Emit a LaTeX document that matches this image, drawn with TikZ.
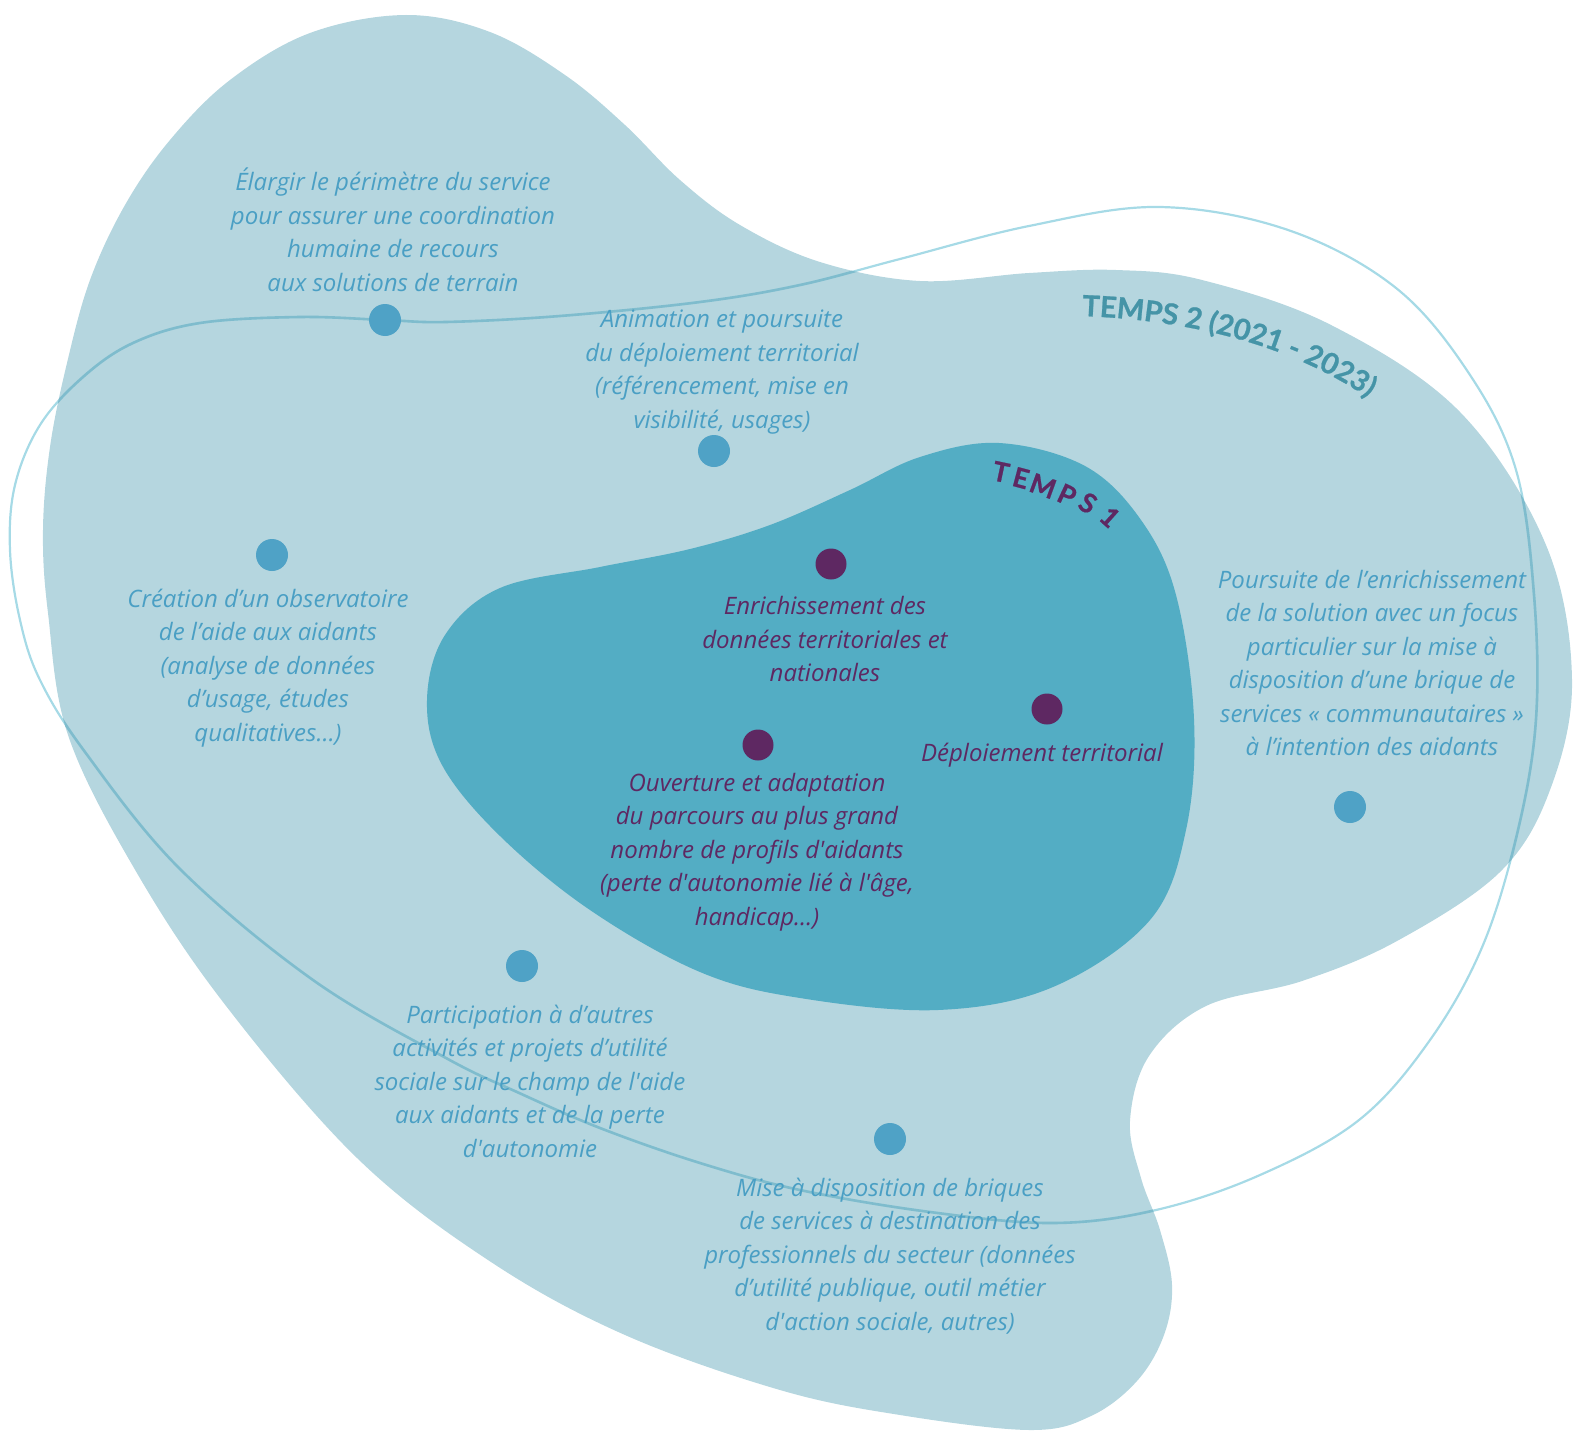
\documentclass[tikz,border=0pt]{standalone}
\usepackage{fontspec}
\setmainfont{Open Sans}
\newfontfamily\latofont{Lato}[BoldFeatures={FakeBold=0.8}]
\usetikzlibrary{decorations.text}
\definecolor{outerc}{HTML}{B5D6DF}
\definecolor{innerc}{HTML}{53ADC4}
\definecolor{bluetxt}{HTML}{4A9FC4}
\definecolor{bluedot}{HTML}{4FA2C6}
\definecolor{purp}{HTML}{5E2862}
\definecolor{temps2c}{HTML}{4594A7}
\definecolor{loopout}{HTML}{A6DAE6}
\definecolor{loopin}{HTML}{7FBCCD}
\newcommand\apos{\textquotesingle}
\newcommand\outerblobpath{plot[smooth cycle, tension=0.6] coordinates {
 (406,15) (490,32) (565,75) (625,125) (680,180) (740,225) (820,262) (920,281) (1029,273) (1116,270)
 (1202,280) (1331,325) (1460,412) (1546,545) (1572,680) (1550,790) (1500,872) (1397,941)
 (1302,981) (1206,1006) (1149,1056) (1130,1121) (1141,1178) (1160,1230) (1172,1285)
 (1164,1335) (1137,1381) (1091,1416) (1030,1430) (900,1415) (780,1390) (625,1335)
 (491,1262) (357,1158) (223,1002) (134,868) (68,735) (48,613) (43,530) (50,447) (67,363)
 (90,280) (125,205) (170,140) (230,80) (310,33)}}
\newcommand\loopcurvepath{plot[smooth cycle, tension=0.6] coordinates {
 (385,320) (446,322) (560,316) (700,302) (800,285) (900,259) (1029,226) (1159,207)
 (1288,230) (1396,288) (1470,375) (1516,470) (1534,595) (1536,719) (1518,830)
 (1483,945) (1430,1040) (1359,1120) (1260,1175) (1156,1210) (1053,1223) (930,1212)
 (800,1190) (700,1163) (600,1128) (517,1092) (446,1058) (313,980) (179,868) (85,752)
 (40,680) (20,620) (10,550) (15,485) (40,425) (83,377) (133,343) (200,323) (300,317)}}
\tikzset{
 bluetext/.style={text=bluetxt, font=\fontsize{24}{33.5}\selectfont\itshape, align=center, inner sep=0pt},
 purptext/.style={text=purp, font=\fontsize{24}{33.5}\selectfont\itshape, align=center, inner sep=0pt},
 bdot/.style={circle, fill=bluedot, minimum size=32pt, inner sep=0pt},
 pdot/.style={circle, fill=purp, minimum size=31pt, inner sep=0pt},
 tonel/.style={text=purp, font=\latofont\bfseries\fontsize{27}{27}\selectfont, inner sep=0pt}
}
\begin{document}
\begin{tikzpicture}[x=1pt,y=-1pt]
\useasboundingbox (0,0) rectangle (1576,1434);
% outer blob
\fill[outerc] \outerblobpath;
% inner blob
\fill[innerc] plot[smooth cycle, tension=0.6] coordinates {
 (427,700) (445,635) (500,588) (600,567) (690,549) (770,525) (850,490) (920,457)
 (999,443) (1085,466) (1141,520) (1176,595) (1194,719) (1186,830) (1150,920)
 (1053,987) (938,1010) (800,998) (700,972) (590,910) (500,836) (442,765)};
% loop line
\draw[loopout, line width=2.2pt] \loopcurvepath;
\begin{scope}
 \clip \outerblobpath;
 \draw[loopin, line width=2.6pt] \loopcurvepath;
\end{scope}
% labels TEMPS
\path[decorate, decoration={text along path, text align=left,
 text={|\latofont\bfseries\fontsize{29}{29}\selectfont\color{temps2c}|TEMPS 2 (2021 - 2023)}}]
 (1082,316) .. controls (1190,320) and (1300,345) .. (1385,410);
\node[tonel, rotate=-12] (tA) at (1001,472) {T};
\node[tonel, rotate=-15] (tB) at (1021,478) {E};
\node[tonel, rotate=-20] (tC) at (1043,486) {M};
\node[tonel, rotate=-25] (tD) at (1067,495) {P};
\node[tonel, rotate=-32] (tE) at (1088,503) {S};
\node[tonel, rotate=-42] (tF) at (1110,517) {1};
% blue dots
\node[bdot] (d1) at (385,320) {};
\node[bdot] (d2) at (714,451) {};
\node[bdot] (d3) at (272,555) {};
\node[bdot] (d4) at (522,966) {};
\node[bdot] (d5) at (890,1139) {};
\node[bdot] (d6) at (1350,807) {};
% purple dots
\node[pdot] (p1) at (831,564) {};
\node[pdot] (p2) at (758,745) {};
\node[pdot] (p3) at (1047,709) {};
% blue texts
\node[bluetext] (t1) at (393,230) {Élargir le périmètre du service\\pour assurer une coordination\\humaine de recours\\aux solutions de terrain};
\node[bluetext] (t2) at (722,372) {Animation et poursuite\\du déploiement territorial\\(référencement, mise en\\visibilité, usages)};
\node[bluetext] (t3) at (268,668) {Création d’un observatoire\\de l’aide aux aidants\\(analyse de données\\d’usage, études\\qualitatives…)};
\node[bluetext] (t4) at (530,1081) {Participation à d’autres\\activités et projets d’utilité\\sociale sur le champ de l\apos aide\\aux aidants et de la perte\\d\apos autonomie};
\node[bluetext] (t5) at (890,1256) {Mise à disposition de briques\\de services à destination des\\professionnels du secteur (données\\d’utilité publique, outil métier\\d\apos action sociale, autres)};
\node[bluetext] (t6) at (1372,663) {Poursuite de l’enrichissement\\de la solution avec un focus\\particulier sur la mise à\\disposition d’une brique de\\services « communautaires »\\à l’intention des aidants};
% purple texts
\node[purptext] (t7) at (825,639) {Enrichissement des\\données territoriales et\\nationales};
\node[purptext] (t8) at (1042,755) {Déploiement territorial};
\node[purptext] (t9) at (757,852) {Ouverture et adaptation\\du parcours au plus grand\\nombre de profils d\apos aidants\\(perte d\apos autonomie lié à l\apos âge,\\handicap…)};
\end{tikzpicture}
\end{document}
